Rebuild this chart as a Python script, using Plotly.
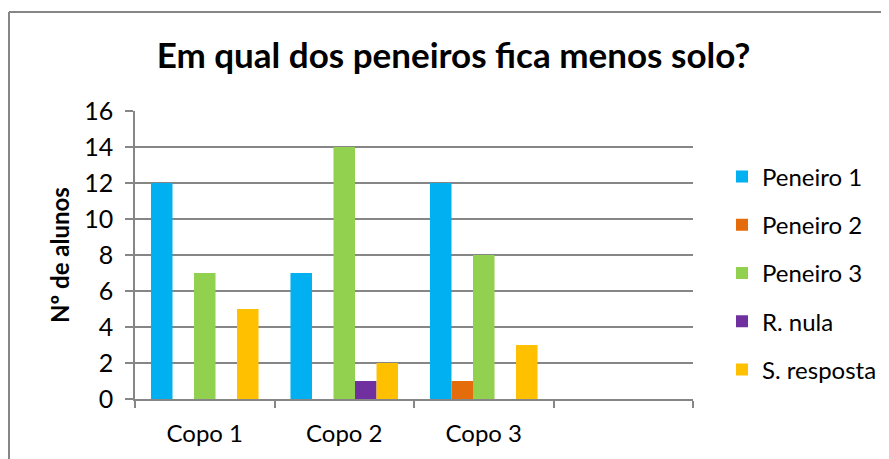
import plotly.graph_objects as go

categories = ["Copo 1", "Copo 2", "Copo 3", " "]
series_names = ["Peneiro 1", "Peneiro 2", "Peneiro 3", "R. nula", "S. resposta"]
peneiro1 = [12, 7, 12, None]
peneiro2 = [0, 0, 1, None]
peneiro3 = [7, 14, 8, None]
r_nula = [0, 1, 0, None]
s_resposta = [5, 2, 3, None]
y_ticks = [0, 2, 4, 6, 8, 10, 12, 14, 16]

colors = ["#00B0F0", "#E46C0A", "#92D050", "#7030A0", "#FFC000"]
values = [peneiro1, peneiro2, peneiro3, r_nula, s_resposta]

FONT = "Lato"
OFF = 8  # page body margin
W, H = 889 - OFF, 459 - OFF
L, T = 135 - OFF, 111 - OFF
R, B = 196, 60
PW, PH = W - L - R, H - T - B

px_x = lambda px: (px - OFF - L) / PW
px_y = lambda py: (T + PH - (py - OFF)) / PH

fig = go.Figure()
for i, (name, vals) in enumerate(zip(series_names, values)):
    fig.add_trace(go.Bar(
        x=categories, y=vals, name=name,
        marker=dict(color=colors[i], line=dict(width=0)),
        legendgroup=name,
    ))

fig.update_layout(
    width=W, height=H,
    margin=dict(l=L, r=R, t=T, b=B, autoexpand=False),
    paper_bgcolor="white", plot_bgcolor="white",
    barmode="group", bargap=0.229, bargroupgap=0,
    font=dict(family=FONT, size=25, color="black"),
    title=dict(text="<b>Em qual dos peneiros fica menos solo?</b>",
               x=px_x(453.5), xref="paper", xanchor="center",
               y=1 - (56 - OFF) / H, yanchor="middle",
               font=dict(family=FONT, size=35, color="black")),
    xaxis=dict(
        type="category", showgrid=False, showline=True, linecolor="#868686",
        linewidth=1.5, ticks="outside", tickson="boundaries", ticklen=7,
        tickcolor="#868686", tickwidth=1.5, ticklabelstandoff=12,
        tickfont=dict(family=FONT, size=24), range=[-0.5, 3.5],
    ),
    yaxis=dict(
        range=[0, 16], tickvals=y_ticks, showgrid=True, gridcolor="#868686",
        gridwidth=1.5, showline=True, linecolor="#868686", linewidth=1.5,
        ticks="outside", ticklen=8, tickcolor="#868686", tickwidth=1.5,
        tickfont=dict(family=FONT, size=25), ticklabelstandoff=7,
        title=dict(text="<b>Nº de alunos</b>", standoff=8,
                   font=dict(family=FONT, size=24)),
        zeroline=False,
    ),
    legend=dict(
        x=px_x(722), xanchor="left",
        y=px_y(273), yanchor="middle",
        font=dict(family=FONT, size=24),
        tracegroupgap=14, itemwidth=30,
        bgcolor="rgba(0,0,0,0)",
    ),
    showlegend=True,
)

# chart area border (top and left visible)
fig.add_shape(type="line", xref="paper", yref="paper",
              x0=px_x(9), x1=px_x(900), y0=px_y(12), y1=px_y(12),
              line=dict(color="#868686", width=2))
fig.add_shape(type="line", xref="paper", yref="paper",
              x0=px_x(9), x1=px_x(9), y0=px_y(12), y1=px_y(470),
              line=dict(color="#868686", width=2))

fig.write_html("out.html")
